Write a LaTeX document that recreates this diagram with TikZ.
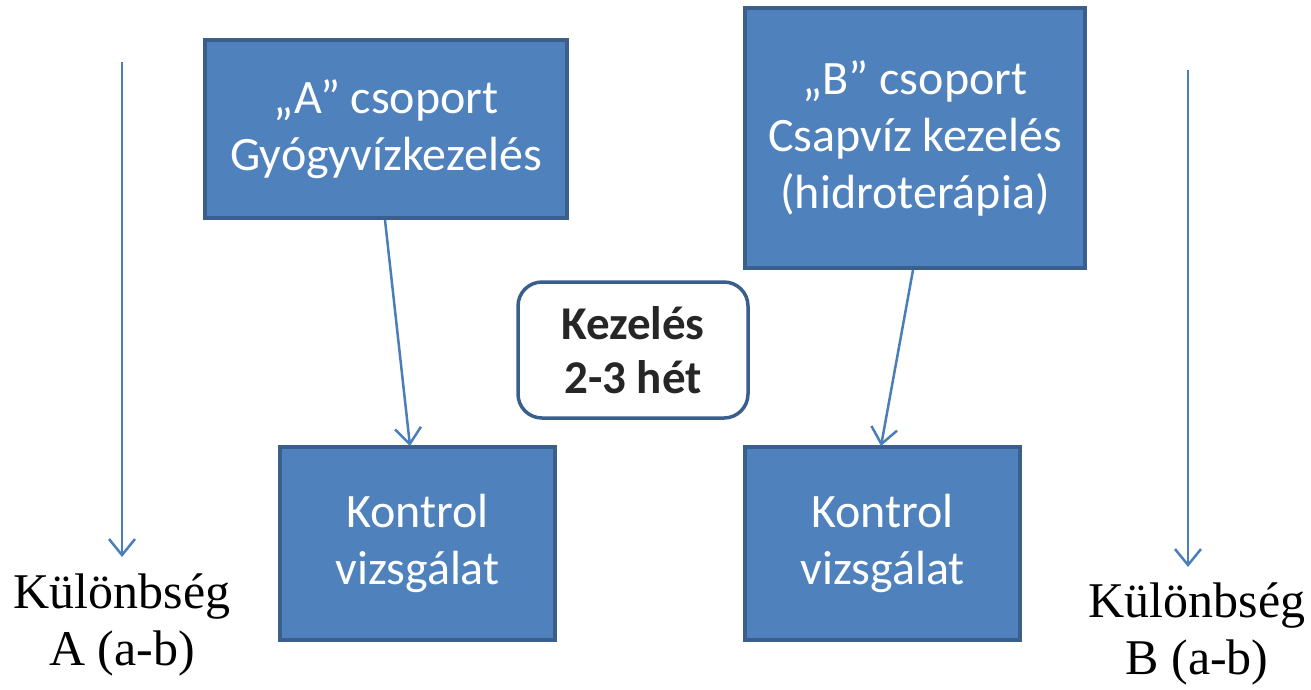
\documentclass[tikz,border=0pt]{standalone}
\usepackage{fontspec}
\setmainfont{Liberation Serif}
\newfontfamily\boxfont{Carlito}
\usetikzlibrary{arrows.meta}
\definecolor{boxfill}{HTML}{4F81BD}
\definecolor{boxline}{HTML}{3A5F8C}
\definecolor{arrowc}{HTML}{4A7EBB}
\tikzset{
  bluebox/.style={draw=boxline, fill=boxfill, line width=3.5pt, text=white, align=center,
    font=\boxfont\fontsize{48}{57}\selectfont, inner sep=0pt},
  roundbox/.style={draw=boxline, fill=white, line width=3.5pt, rounded corners=24pt, align=center,
    font=\boxfont\bfseries\fontsize{47}{54}\selectfont, text=black!85, inner sep=0pt},
  lbl/.style={align=center, font=\fontsize{50}{57}\selectfont, inner sep=0pt},
  conn/.style={draw=arrowc, line width=2.5pt, -{Straight Barb[length=16pt,width=26pt,line width=2.5pt]}}
}
\begin{document}
\begin{tikzpicture}[x=1pt,y=-1pt]
\useasboundingbox (0,0) rectangle (1311,689);
\node[bluebox, minimum width=362pt, minimum height=178pt] (ga) at (386,129) {„A” csoport\\Gyógyvízkezelés};
\node[bluebox, minimum width=340pt, minimum height=260pt] (gb) at (915,138) {„B” csoport\\Csapvíz kezelés\\(hidroterápia)};
\node[bluebox, minimum width=275pt, minimum height=193pt] (ka) at (417.5,543.5) {Kontrol\\vizsgálat};
\node[bluebox, minimum width=275pt, minimum height=193pt] (kb) at (882.5,543.5) {Kontrol\\vizsgálat};
\node[roundbox, minimum width=230pt, minimum height=136pt] (kez) at (633,350) {Kezelés\\2-3 hét};
\node[lbl] (da) at (122,625) {Különbség\\A (a-b)};
\node[lbl] (db) at (1197,634) {Különbség\\B (a-b)};
\coordinate (la1) at (122,62);
\coordinate (la2) at (122,557);
\coordinate (ra1) at (1188,70);
\coordinate (ra2) at (1188,567);
\coordinate (a1) at (385,220);
\coordinate (a2) at (410,446);
\coordinate (b1) at (913,270);
\coordinate (b2) at (881,446);
\draw[conn] (la1) -- (la2);
\draw[conn] (ra1) -- (ra2);
\draw[conn] (a1) -- (a2);
\draw[conn] (b1) -- (b2);
\end{tikzpicture}
\end{document}
